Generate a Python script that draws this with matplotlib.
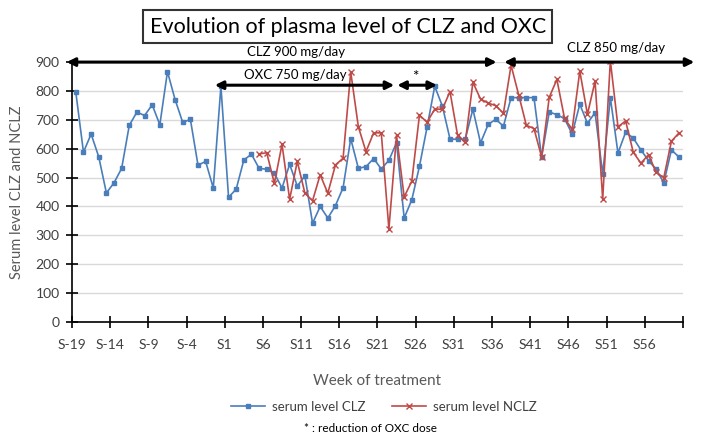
import numpy as np
import matplotlib
matplotlib.use('Agg')
import matplotlib.pyplot as plt

plt.rcParams['font.family'] = ['Lato', 'DejaVu Sans']

# weeks S-19 .. S60
weeks = list(range(-19, 61))
week_labels = ['S%d' % w for w in weeks]

clz = [795, 588, 651, 572, 447, 482, 532, 681, 727, 715,
       752, 683, 867, 770, 691, 702, 543, 556, 464, 816,
       432, 460, 561, 581, 532, 529, 515, 464, 546, 471,
       506, 342, 400, 360, 403, 465, 635, 532, 538, 566,
       530, 560, 621, 360, 423, 539, 675, 816, 748, 634,
       632, 634, 737, 620, 684, 702, 678, 777, 777, 777,
       777, 571, 727, 718, 704, 651, 754, 688, 725, 512,
       777, 585, 657, 637, 596, 559, 529, 482, 596, 571]

# NCLZ measured from S5 on
nclz = [None] * 24 + [
       582, 586, 480, 615, 425, 556,
       446, 420, 510, 446, 544, 567, 866, 676, 590, 655,
       655, 322, 646, 433, 488, 716, 692, 737, 737, 798,
       646, 622, 830, 772, 758, 749, 723, 889, 786, 681,
       670, 571, 778, 840, 705, 667, 869, 719, 834, 425,
       905, 676, 696, 588, 550, 579, 518, 500, 626, 655]

# dose periods: arrow start/end (weeks), arrow level, label, label week, label level
periods = [(-20.2, 36.1, 900, 'CLZ 900 mg/day', 9.8, 935),
           (37.1, 62.0, 900, 'CLZ 850 mg/day', 51.7, 948),
           (-0.8, 22.7, 820, 'OXC 750 mg/day', 9.8, 855),
           (23.1, 28.3, 820, '*', 25.5, 850)]

blue = '#4a7ebb'
red = '#be4b48'
grey = '#595959'

fig = plt.figure(figsize=(7.04, 4.41), dpi=100)
ax = fig.add_axes([0.1023, 0.2698, 0.8677, 0.5894])

x = np.arange(len(weeks))
nclz_arr = np.array([np.nan if v is None else v for v in nclz], dtype=float)

ax.plot(x, clz, color=blue, lw=1.2, marker='s', ms=3.3, mec=blue, mfc=blue,
        label='serum level CLZ', zorder=3)
ax.plot(x, nclz_arr, color=red, lw=1.2, marker='x', ms=4, mew=1,
        label='serum level NCLZ', zorder=3)

ax.set_xlim(-0.5, len(weeks) - 0.5)
ax.set_ylim(0, 900)
ax.set_yticks(range(0, 1000, 100))
ax.yaxis.grid(True, color='#d9d9d9', lw=1)
ax.set_axisbelow(True)

tick_pos = [i - 0.5 for i in range(0, len(weeks), 5)] + [len(weeks) - 0.5]
tick_lab = [week_labels[i] for i in range(0, len(weeks), 5)] + ['']
ax.set_xticks(tick_pos)
ax.set_xticklabels(tick_lab)

for s in ['top', 'right']:
    ax.spines[s].set_visible(False)
for s in ['left', 'bottom']:
    ax.spines[s].set_color('black')
    ax.spines[s].set_linewidth(1.2)
ax.tick_params(axis='both', direction='inout', length=8, width=1.2,
               labelsize=10, labelcolor='#404040', pad=5)
ax.tick_params(axis='x', pad=8)

ax.set_xlabel('Week of treatment', fontsize=11, color=grey, labelpad=17)
ax.set_ylabel('Serum level CLZ and NCLZ', fontsize=10.5, color=grey,
              labelpad=8)

# dose arrows
for x0, x1, yv, lab, lx, ly in periods:
    ax.annotate('', xy=(x1 + 19, yv), xytext=(x0 + 19, yv),
                arrowprops=dict(arrowstyle='<|-|>', color='black', lw=2.2,
                                mutation_scale=12, shrinkA=0, shrinkB=0),
                annotation_clip=False, zorder=5)
    ax.text(lx + 19, ly, lab, ha='center', va='center',
            fontsize=11 if lab == '*' else 9.5, color='black', clip_on=False)

fig.text(0.494, 0.939, 'Evolution of plasma level of CLZ and OXC',
         ha='center', va='center', fontsize=15.5, color='black',
         bbox=dict(boxstyle='square,pad=0.3', fc='white', ec='#333333', lw=1.5))

fig.legend(loc='center', bbox_to_anchor=(0.545, 0.077), ncol=2, frameon=False,
           fontsize=9.5, labelcolor='#404040', handlelength=2.6,
           columnspacing=2.0, handletextpad=0.5)

fig.text(0.526, 0.029, '* : reduction of OXC dose', ha='center', va='center',
         fontsize=8.5, color='black')

fig.savefig('out.png', dpi=100)
